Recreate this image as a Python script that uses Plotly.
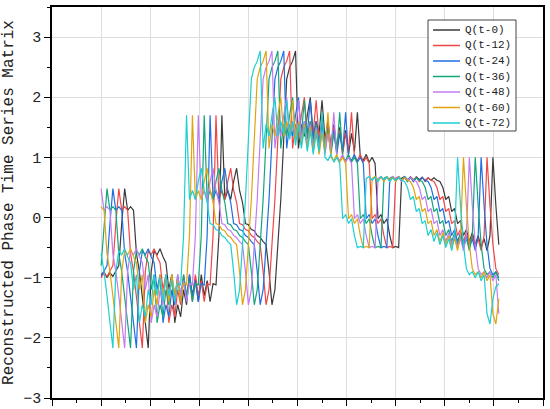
import numpy as np
import plotly.graph_objects as go

# Base discharge series Q(t) (normalised), one value every 6 time steps
q_base = [
    -0.95, -0.9, -1.0, -0.92, -0.98, -0.9, -0.8, -0.1, 0.48, 0.12,
    0.18, 0.12, -0.6, -0.9, -1.3, -1.7, -2.17, -0.9, -0.55, -0.62,
    -0.52, -0.65, -0.75, -1.2, -0.95, -1.75, -1.45, -1.65, -1.2, -1.45,
    -0.95, -1.3, -1.0, -1.4, -0.95, -1.3, -1.05, -1.4, -1.1, -1.12,
    -0.3, 1.7, 0.3, 0.45, 0.3, 0.6, 0.82, 0.45, 0.25, -0.1,
    -0.12, -0.2, -0.22, -0.3, -0.33, -0.4, -0.45, -0.9, -1.45, -1.2,
    -0.5, 0.3, 1.3, 2.3, 2.5, 2.6, 2.77, 1.15, 1.55, 1.35,
    1.7, 2.0, 1.35, 1.6, 1.4, 1.95, 1.3, 1.6, 1.2, 1.55,
    1.15, 1.5, 1.1, 1.45, 1.05, 1.4, 1.1, 1.75, 1.0, 0.95,
    1.05, 0.92, 1.0, 0.9, -0.02, 0.05, -0.1, -0.02, -0.3, -0.5,
    -0.48, -0.5, 0.65, 0.68, 0.62, 0.67, 0.6, 0.68, 0.63, 0.67,
    0.6, 0.66, 0.62, 0.66, 0.62, 0.6, 0.5, 0.3, 0.35, 0.1,
    0.15, -0.1, -0.05, -0.3, -0.2, -0.4, -0.25, -0.45, -0.3, -0.5,
    -0.35, -0.55, -0.3, 1.0, 0.2, -0.45, -0.85, -0.95, -0.9, -1.0,
    -0.9, -1.05, -0.95, -1.6, -1.77, -1.35, -1.15, -1.1,
]

lags = [0, 12, 24, 36, 48, 60, 72]          # delay in time steps
labels = ["Q(t-0)", "Q(t-12)", "Q(t-24)", "Q(t-36)", "Q(t-48)", "Q(t-60)", "Q(t-72)"]
colors = ["#3a3a3a", "#f24646", "#1f6fe0", "#12a67a", "#c27cf0", "#e0a410", "#1ccfd0"]

step = 6            # time steps between stored samples
t_start = 100       # first row of the reconstructed matrix
n_rows = len(q_base) - lags[-1] // step

t = t_start + step * np.arange(n_rows)

font_family = "Liberation Mono, DejaVu Sans Mono, monospace"

fig = go.Figure()
for lag, name, col in zip(lags, labels, colors):
    off = lag // step
    fig.add_trace(go.Scatter(
        x=t, y=q_base[off:off + n_rows], mode="lines", name=name,
        line=dict(color=col, width=1.2), showlegend=False,
    ))

# ---- legend box drawn in paper coordinates (compact, like the original) ----
L, R, T, B = 52.0, 543.0, 7.0, 398.0   # plot area in pixels (for conversion)
def px2paper_x(px):
    return (px - L) / (R - L)
def px2paper_y(py):
    return (B - py) / (B - T)

shapes = [dict(type="rect", xref="paper", yref="paper",
               x0=px2paper_x(428), x1=px2paper_x(516),
               y0=px2paper_y(131), y1=px2paper_y(20),
               line=dict(color="#444444", width=1), fillcolor="white", layer="above")]
annotations = []
for i, (name, col) in enumerate(zip(labels, colors)):
    yc = px2paper_y(30 + 15.5 * i)
    shapes.append(dict(type="line", xref="paper", yref="paper",
                       x0=px2paper_x(433), x1=px2paper_x(460), y0=yc, y1=yc,
                       line=dict(color=col, width=1.5), layer="above"))
    annotations.append(dict(xref="paper", yref="paper", x=px2paper_x(463), y=yc,
                            text=name, showarrow=False, xanchor="left", yanchor="middle",
                            font=dict(family=font_family, size=11, color="#222222")))

fig.update_layout(
    width=550, height=409,
    margin=dict(l=52, r=7, t=7, b=11, autoexpand=False),
    paper_bgcolor="white", plot_bgcolor="white",
    font=dict(family=font_family, color="#222222", size=14),
    showlegend=False,
    shapes=shapes, annotations=annotations,
    xaxis=dict(
        range=[0, 1000], dtick=100, tick0=0, automargin=False,
        showticklabels=False, ticks="outside", ticklen=6, tickwidth=1.2, tickcolor="black",
        minor=dict(dtick=50, ticks="outside", ticklen=3, tickcolor="black", showgrid=False),
        showgrid=True, gridcolor="#dedede", gridwidth=1,
        showline=True, linecolor="black", linewidth=1.5, mirror=True,
        zeroline=False,
    ),
    yaxis=dict(
        range=[-3, 3.5], dtick=1, tick0=-3, automargin=False,
        ticks="outside", ticklen=6, tickwidth=1.2, tickcolor="black",
        minor=dict(dtick=0.5, ticks="outside", ticklen=3, tickcolor="black", showgrid=False),
        showgrid=True, gridcolor="#dedede", gridwidth=1,
        showline=True, linecolor="black", linewidth=1.5, mirror=True,
        zeroline=False,
        tickfont=dict(size=15),
        title=dict(text="Reconstructed Phase Time Series Matrix",
                   font=dict(size=16), standoff=6),
    ),
)

fig.write_html("out.html",
               config={"displayModeBar": False},
               post_script="document.body.style.margin='0';document.body.style.padding='0';")
